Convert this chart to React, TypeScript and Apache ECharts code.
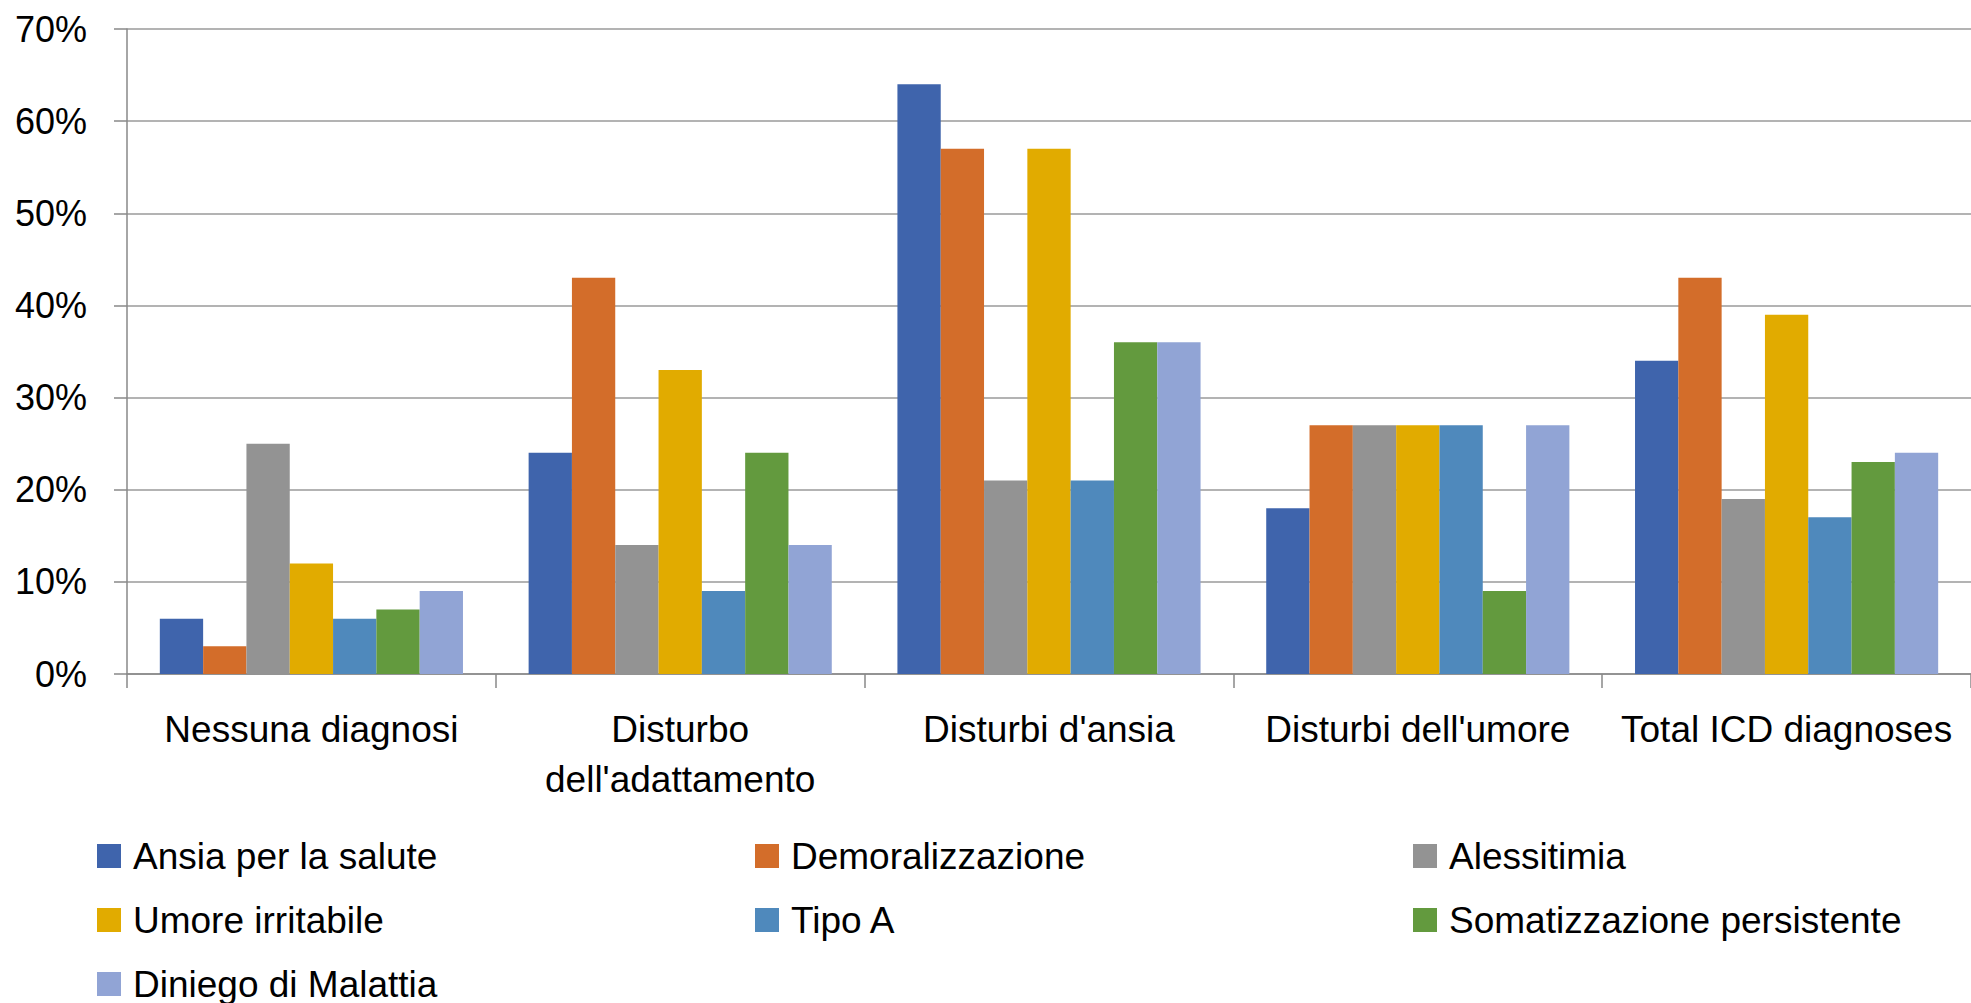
import React, { useEffect, useRef } from "react";
import * as echarts from "echarts";

const categories = [
  "Nessuna diagnosi",
  "Disturbo\ndell'adattamento",
  "Disturbi d'ansia",
  "Disturbi dell'umore",
  "Total ICD diagnoses",
];

const seriesNames = [
  "Ansia per la salute",
  "Demoralizzazione",
  "Alessitimia",
  "Umore irritabile",
  "Tipo A",
  "Somatizzazione persistente",
  "Diniego di Malattia",
];

const ansiaSalute = [6, 24, 64, 18, 34];
const demoralizzazione = [3, 43, 57, 27, 43];
const alessitimia = [25, 14, 21, 27, 19];
const umoreIrritabile = [12, 33, 57, 27, 39];
const tipoA = [6, 9, 21, 27, 17];
const somatizzazione = [7, 24, 36, 9, 23];
const diniego = [9, 14, 36, 27, 24];

const seriesValues = [
  ansiaSalute,
  demoralizzazione,
  alessitimia,
  umoreIrritabile,
  tipoA,
  somatizzazione,
  diniego,
];

const colors = [
  "#3F64AC",
  "#D36D2A",
  "#939393",
  "#E1AB00",
  "#4F89BC",
  "#639A3E",
  "#91A4D5",
];

const FONT = "'Liberation Sans', Arial, sans-serif";

export default function App() {
  const ref = useRef<HTMLDivElement>(null);

  useEffect(() => {
    if (!ref.current) return;
    const chart = echarts.init(ref.current, null, { renderer: "svg" });

    const legendText = {
      fontSize: 37,
      color: "#000",
      fontFamily: FONT,
      lineHeight: 38,
      padding: [0, 0, 0, 7],
    };
    const legendBase = {
      orient: "vertical" as const,
      top: 837,
      height: 200,
      padding: 0,
      itemWidth: 24,
      itemHeight: 24,
      itemGap: 26,
      icon: "rect",
      textStyle: legendText,
      selectedMode: false,
    };

    chart.setOption({
      animation: false,
      color: colors,
      grid: { left: 127, top: 29, bottom: 329, right: -14, containLabel: false },
      legend: [
        { ...legendBase, left: 97, data: [seriesNames[0], seriesNames[3], seriesNames[6]] },
        { ...legendBase, left: 755, data: [seriesNames[1], seriesNames[4]] },
        { ...legendBase, left: 1413, data: [seriesNames[2], seriesNames[5]] },
      ],
      xAxis: {
        type: "category",
        data: categories,
        axisLine: { show: true, lineStyle: { color: "#888888", width: 1.5 } },
        axisTick: { show: true, length: 14, lineStyle: { color: "#888888", width: 1.5 } },
        axisLabel: {
          interval: 0,
          margin: 30,
          fontSize: 37,
          lineHeight: 50,
          color: "#000",
          fontFamily: FONT,
        },
      },
      yAxis: {
        type: "value",
        min: 0,
        max: 70,
        interval: 10,
        axisLine: { show: true, lineStyle: { color: "#888888", width: 1.5 } },
        axisTick: { show: true, length: 13, lineStyle: { color: "#888888", width: 1.5 } },
        splitLine: { show: true, lineStyle: { color: "#9A9A9A", width: 1.5 } },
        axisLabel: {
          formatter: "{value}%",
          margin: 40,
          fontSize: 36,
          color: "#000",
          fontFamily: FONT,
        },
      },
      series: seriesNames.map((name, i) => ({
        name,
        type: "bar",
        data: seriesValues[i],
        barGap: "0%",
        barCategoryGap: "17.8%",
        itemStyle: { color: colors[i] },
      })),
    });

    return () => chart.dispose();
  }, []);

  return (
    <div
      ref={ref}
      style={{ position: "absolute", left: 0, top: 0, width: 1971, height: 1003, background: "#fff" }}
    />
  );
}
